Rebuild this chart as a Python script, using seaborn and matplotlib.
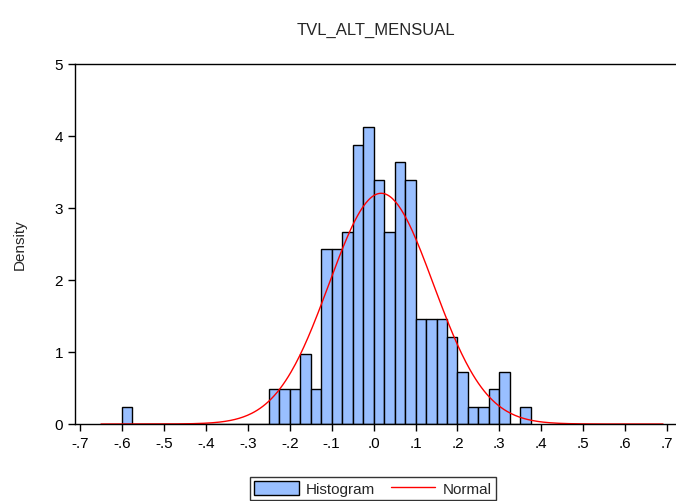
import numpy as np
import pandas as pd
import matplotlib
matplotlib.use("Agg")
import matplotlib.pyplot as plt
import seaborn as sns
from matplotlib.patches import Patch
from matplotlib.lines import Line2D

# Data
bin_left = [-0.600, -0.250, -0.225, -0.200, -0.175, -0.150, -0.125, -0.100, -0.075,
            -0.050, -0.025, 0.000, 0.025, 0.050, 0.075, 0.100, 0.125, 0.150,
            0.175, 0.200, 0.225, 0.250, 0.275, 0.300, 0.350]
counts = [1, 2, 2, 2, 4, 2, 10, 10, 11, 16, 17, 14, 11, 15, 14, 6, 6, 6,
          5, 3, 1, 1, 2, 3, 1]
bin_width = 0.025
normal_mean = 0.018
normal_sd = 0.1245
x_ticks = [-0.7, -0.6, -0.5, -0.4, -0.3, -0.2, -0.1, 0.0, 0.1, 0.2, 0.3, 0.4, 0.5, 0.6, 0.7]
x_tick_labels = ["-.7", "-.6", "-.5", "-.4", "-.3", "-.2", "-.1", ".0", ".1", ".2", ".3", ".4", ".5", ".6", ".7"]
y_ticks = [0, 1, 2, 3, 4, 5]

sns.set_style("white")
plt.rcParams['font.family'] = ['Liberation Sans', 'DejaVu Sans']

df = pd.DataFrame({"x": np.array(bin_left) + bin_width / 2, "w": counts})

fig = plt.figure(figsize=(6.76, 5.02), dpi=100)
ax = fig.add_axes([75 / 676, 77 / 502, 1 - 75 / 676, 360 / 502])

sns.histplot(data=df, x="x", weights="w", binwidth=bin_width, binrange=(-0.600, 0.375),
             stat="density", ax=ax,
             color="#99BFFF", edgecolor="black", linewidth=1.0, alpha=1.0)

xs = np.linspace(-0.65, 0.69, 400)
pdf = np.exp(-0.5 * ((xs - normal_mean) / normal_sd) ** 2) / (normal_sd * np.sqrt(2 * np.pi))
sns.lineplot(x=xs, y=pdf, color="red", linewidth=1.0, ax=ax)

ax.set_xlim(-0.712, 0.721)
ax.set_ylim(0, 5)
ax.set_xticks(x_ticks)
ax.set_xticklabels(x_tick_labels)
ax.set_yticks(y_ticks)
ax.set_xlabel("")
ax.set_ylabel("Density", fontsize=11, labelpad=20)
ax.tick_params(axis="both", direction="out", length=5, width=1, labelsize=11,
               color="black", labelcolor="black", bottom=True, left=True)
for s in ["left", "top", "bottom"]:
    ax.spines[s].set_visible(True)
    ax.spines[s].set_color("black")
    ax.spines[s].set_linewidth(1.0)
ax.spines["right"].set_visible(False)
ax.set_title("TVL_ALT_MENSUAL", fontsize=12, pad=22)

handles = [Patch(facecolor="#99BFFF", edgecolor="black", linewidth=1.0),
           Line2D([0], [0], color="red", linewidth=1.0)]
leg = fig.legend(handles, ["Histogram", "Normal"], loc="lower center",
                 bbox_to_anchor=(373 / 676, -0.013), ncol=2, frameon=True,
                 fontsize=11, fancybox=False, handlelength=2.9, handleheight=1.0,
                 borderpad=0.25, columnspacing=1.0, handletextpad=0.5)
leg.get_frame().set_edgecolor("black")
leg.get_frame().set_linewidth(1.0)

fig.savefig("out.png", dpi=100)
